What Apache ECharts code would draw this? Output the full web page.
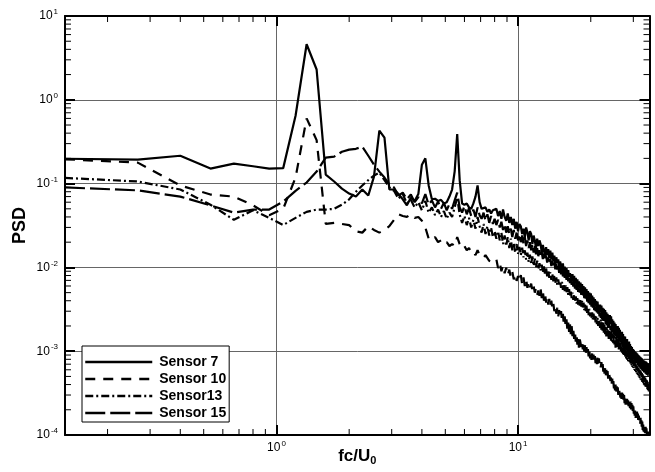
<!DOCTYPE html>
<html><head><meta charset="utf-8">
<script src="https://cdn.jsdelivr.net/npm/echarts@6/dist/echarts.min.js"></script>
<style>html,body{margin:0;padding:0;background:#fff}#c{width:655px;height:472px}</style>
</head><body><div id="c"></div>
<script>
const binWidth = 0.133333; // frequency bin (fc/U0)
const seriesNames = ['Sensor 7', 'Sensor 10', 'Sensor13', 'Sensor 15'];

const sensor7 = [
0.198,0.193,0.215,0.151,0.173,0.161,0.151,0.153,0.645,4.6,2.3,0.128,0.106,0.087,0.076,0.07,0.085,0.072,0.121,0.43,0.353,0.085,
0.085,0.075,0.065,0.055,0.068,0.062,0.075,0.168,0.2,0.095,0.065,0.066,0.062,0.064,0.058,0.06,0.07,0.085,0.14,0.39,0.11,0.058,0.056,0.058,0.052,0.05,0.058,0.07,0.095,0.06,0.05,0.048,0.052,0.046,0.049,0.044,0.048,0.046,
0.05,0.041,0.047,0.038,0.049,0.04,0.036,0.044,0.034,
0.04,0.032,0.038,0.029,0.035,0.027,0.033,
0.031,0.025,0.029,0.023,0.03,0.026,0.021,0.027,
0.025,0.019,0.024,0.021,0.017,0.022,0.018,0.021,
0.019,0.015,0.0185,0.016,0.0135,0.0175,0.014,0.0165,0.013,
0.0158,0.0125,0.015,0.0118,0.0138,0.0108,0.0132,0.0112,0.0125,0.0098,0.0118,
0.0105,0.0092,0.0112,0.0088,0.0102,0.0082,0.0098,0.0079,0.0093,0.0076,0.0085,
0.0089,0.0071,0.0083,0.0066,0.0079,0.0064,0.0075,0.006,0.0072,0.0058,0.0068,0.0057,
0.0066,0.0053,0.0063,0.0051,0.006,0.0048,0.0058,0.0046,0.0055,0.0045,0.0052,0.0042,0.005,
0.0041,0.0049,0.0039,0.0046,0.0037,0.0044,0.0035,0.0042,0.0034,0.004,0.0032,0.0039,0.0031,0.0036,0.003,
0.0036,0.0029,0.0035,0.0027,0.0033,0.0026,0.0032,0.0025,0.0031,0.0024,0.0029,0.0023,0.0028,0.0022,0.0027,0.0021,
0.0027,0.0021,0.0026,0.002,0.0024,0.0019,0.0023,0.0018,0.0022,0.0017,0.0021,0.0017,0.002,0.0016,0.002,0.0015,0.0019,0.0015,
0.0018,0.0014,0.0017,0.0013,0.0017,0.0013,0.0016,0.0012,0.0015,0.0012,0.0015,0.0011,0.0014,0.0011,0.0014,0.001,0.0013,0.001,0.0013,
0.0011,0.00122,0.00095,0.00115,0.0009,0.00112,0.00088,0.00106,0.00085,0.00104,0.00082,0.001,0.0008,0.00098,0.00078,0.00096,0.00076,0.00093,0.00074,0.0009,0.00072,0.00088,
0.0007,0.00086,0.00068,0.00084,0.00066,0.00082,0.00064,0.0008,0.00063,0.00078,0.00062,0.00077,0.0006,0.00076,0.00059,0.00075,0.00058,0.00073,0.00057,0.00072,0.00056,0.00071,0.00055,0.0007
];

const sensor10 = [
0.195,0.178,0.095,0.074,0.07,0.055,0.042,0.05,0.118,0.6,0.33,0.033,
0.034,0.033,0.032,0.027,0.026,0.031,0.028,0.026,0.028,0.031,0.037,0.043,0.041,0.04,0.043,0.039,0.04,0.036,0.03,0.022,0.021,0.023,0.02,0.021,0.019,0.02,0.018,0.019,0.018,0.023,0.019,0.017,0.018,0.016,0.017,0.015,0.0155,0.014,0.016,0.014,0.0145,0.013,0.014,0.0135,0.012,0.0125,0.0115,0.011,
0.0125,0.0098,0.0115,0.009,0.0106,0.0085,0.0099,0.008,0.0094,0.0076,0.0089,0.0072,0.0084,0.0069,0.0079,0.0068,
0.0081,0.0063,0.0076,0.006,0.0072,0.0057,0.0068,0.0058,0.0064,0.0052,0.006,0.005,0.0057,0.0047,0.0053,0.0046,
0.0056,0.0043,0.0052,0.004,0.0049,0.0038,0.0045,0.0036,0.0042,0.0034,0.004,0.0032,0.0037,0.003,0.0035,0.0028,0.0033,0.0026,0.0031,0.0025,
0.003,0.0023,0.0028,0.0021,0.0026,0.002,0.0024,0.0018,0.0022,0.0017,0.0021,0.0016,0.002,0.0015,0.0018,0.0014,0.0017,0.0013,0.0016,0.0012,0.0015,0.0011,0.0014,
0.00142,0.00112,0.00134,0.00105,0.00126,0.00099,0.00118,0.00094,0.00112,0.00089,0.00106,0.00085,0.00101,0.00082,0.00098,0.00079,0.00094,0.00077,0.00091,0.00075,0.00088,0.00072,0.00086,0.0007,0.00084,0.00069,0.00082,0.00072,
0.00077,0.00064,0.00074,0.0006,0.0007,0.00057,0.00066,0.00054,0.00063,0.00051,0.0006,0.00049,0.00058,0.00047,0.00056,0.00052,0.00053,0.00044,0.0005,0.00041,0.00047,0.00038,0.00044,0.00036,0.00042,0.00034,0.0004,0.00032,0.00038,0.00031,0.00037,0.0003,0.00036,0.00033,
0.00034,0.00028,0.00033,0.00027,0.00032,0.00026,0.00031,0.00025,0.0003,0.00024,0.00029,0.00023,0.00028,0.00023,0.00027,0.00022,0.00026,0.00022,0.00025,
0.00026,0.00021,0.00025,0.0002,0.00024,0.00019,0.00023,0.00018,0.00022,0.00018,0.00021,0.00017,0.0002,0.00016,0.00019,0.00015,0.00019,0.00015,0.00018,0.00014,0.00017,0.00015,
0.00016,0.00013,0.00016,0.000125,0.00015,0.00012,0.000145,0.000115,0.00014,0.00011,0.000135,0.000108,0.00013,0.000105,0.000125,0.000102,0.00012,0.0001,0.000115,0.0001,0.00011,0.0001,0.000108,0.0001
];

const sensor13 = [
0.117,0.106,0.085,0.056,0.037,0.048,0.039,0.032,0.039,0.046,0.049,0.049,0.05,0.056,0.065,0.08,0.095,0.11,0.125,0.135,0.11,0.09,
0.082,0.066,0.075,0.058,0.064,0.052,0.06,0.048,0.062,0.045,0.052,0.042,0.049,0.04,0.047,0.038,0.045,0.04,0.052,0.068,0.043,0.034,0.041,0.032,0.039,0.03,0.037,0.029,0.04,0.031,0.026,0.033,0.025,0.031,0.024,0.03,0.023,0.027,
0.022,0.027,0.021,0.026,0.019,0.024,0.018,0.023,0.017,0.022,0.016,0.0195,0.015,0.019,0.0145,0.0175,
0.014,0.0172,0.0132,0.016,0.0124,0.015,0.0116,0.0142,0.011,0.0135,0.0104,0.0127,0.0099,0.012,0.0095,0.0112,
0.0092,0.0108,0.0087,0.0103,0.0082,0.0098,0.0078,0.0093,0.0075,0.0088,0.0071,0.0084,0.0068,0.008,0.0065,0.0076,0.0062,0.0072,0.006,0.0069,
0.0057,0.0067,0.0054,0.0064,0.0052,0.0061,0.0049,0.0058,0.0047,0.0055,0.0045,0.0052,0.0043,0.005,0.0041,0.0047,0.0039,0.0045,0.0037,0.0043,0.0036,0.0041,0.0035,
0.0042,0.0034,0.004,0.0032,0.0038,0.0031,0.0036,0.0029,0.0035,0.0028,0.0033,0.0027,0.0032,0.0026,0.003,0.0025,0.0029,0.0024,0.0028,0.0023,0.0027,0.0022,0.0026,0.0021,0.0025,0.002,0.0024,0.0021,
0.0019,0.0024,0.0018,0.0023,0.0017,0.0022,0.0016,0.0021,0.0016,0.002,0.0015,0.0019,0.0015,0.0018,0.0014,0.0018,0.0014,0.0017,0.0013,0.0017,0.0013,0.0016,0.0012,0.0016,0.0012,0.0015,0.0011,0.0015,0.0011,0.0014,0.0011,0.0014,0.00105,0.0013,
0.00105,0.0013,0.001,0.00125,0.00096,0.0012,0.00092,0.00115,0.00088,0.0011,0.00085,0.00105,0.00082,0.001,0.00079,0.00097,0.00076,0.00093,0.00082,
0.00074,0.0009,0.00071,0.00087,0.00068,0.00083,0.00065,0.0008,0.00063,0.00077,0.0006,0.00074,0.00058,0.00071,0.00056,0.00068,0.00054,0.00066,0.00052,0.00063,0.0005,0.00061,
0.00048,0.00059,0.00046,0.00057,0.00045,0.00055,0.00043,0.00053,0.00042,0.00051,0.0004,0.00049,0.00039,0.00048,0.00037,0.00046,0.00036,0.00045,0.00035,0.00043,0.00034,0.00042,0.00033,0.0004
];

const sensor15 = [
0.09,0.083,0.07,0.055,0.045,0.049,0.049,0.061,0.082,0.103,0.139,0.204,0.21,0.24,0.254,0.26,0.276,0.215,0.168,0.139,0.118,0.097,
0.09,0.072,0.078,0.065,0.074,0.06,0.069,0.058,0.075,0.056,0.063,0.052,0.061,0.05,0.059,0.048,0.057,0.05,0.063,0.078,0.052,0.045,0.054,0.043,0.051,0.041,0.049,0.04,0.052,0.042,0.038,0.045,0.036,0.043,0.034,0.041,0.033,0.038,
0.032,0.037,0.03,0.035,0.028,0.033,0.026,0.031,0.025,0.029,0.023,0.028,0.022,0.026,0.021,0.025,
0.02,0.024,0.019,0.023,0.018,0.021,0.017,0.02,0.016,0.019,0.015,0.018,0.0143,0.017,0.0136,0.016,
0.0132,0.0152,0.0126,0.0146,0.012,0.0139,0.0114,0.0132,0.0109,0.0126,0.0104,0.012,0.0099,0.0114,0.0095,0.0109,0.009,0.0104,0.0086,0.0098,
0.0082,0.0094,0.0078,0.009,0.0075,0.0086,0.0071,0.0082,0.0068,0.0078,0.0065,0.0074,0.0062,0.0071,0.0059,0.0068,0.0056,0.0065,0.0054,0.0062,0.0051,0.0059,0.005,
0.0056,0.0047,0.0054,0.0045,0.0051,0.0043,0.0049,0.0041,0.0047,0.0039,0.0045,0.0037,0.0043,0.0036,0.0041,0.0034,0.0039,0.0033,0.0037,0.0031,0.0035,0.003,0.0034,0.0029,0.0032,0.0027,0.0031,0.0026,
0.0029,0.0025,0.0028,0.0024,0.0027,0.0023,0.0026,0.0022,0.0025,0.0021,0.0024,0.002,0.0023,0.0019,0.0022,0.0019,0.0021,0.0018,0.002,0.0017,0.002,0.0017,0.0019,0.0016,0.0018,0.0015,0.0018,0.0015,0.0017,0.0014,0.0016,0.0014,0.0016,0.0013,
0.0015,0.00128,0.00146,0.00122,0.0014,0.00117,0.00134,0.00112,0.00129,0.00108,0.00124,0.00104,0.00119,0.001,0.00114,0.00097,0.0011,0.00093,0.00106,
0.0009,0.00103,0.00087,0.001,0.00084,0.00097,0.00081,0.00094,0.00079,0.00091,0.00076,0.00088,0.00074,0.00085,0.00072,0.00083,0.0007,0.0008,0.00068,0.00078,0.00066,0.00076,
0.00064,0.00074,0.00062,0.00072,0.00061,0.0007,0.00059,0.00068,0.00058,0.00066,0.00056,0.00064,0.00055,0.00063,0.00054,0.00061,0.00053,0.0006,0.00052,0.00059,0.00051,0.00058,0.0005,0.00057
];

const xMinorTicks = [0.2,0.3,0.4,0.5,0.6,0.7,0.8,0.9,2,3,4,5,6,7,8,9,20,30];
const yMinorTicks = [
2e-4,3e-4,4e-4,5e-4,6e-4,7e-4,8e-4,9e-4,
2e-3,3e-3,4e-3,5e-3,6e-3,7e-3,8e-3,9e-3,
0.02,0.03,0.04,0.05,0.06,0.07,0.08,0.09,
0.2,0.3,0.4,0.5,0.6,0.7,0.8,0.9,
2,3,4,5,6,7,8,9
];

const allSeries = [sensor7, sensor10, sensor13, sensor15];
allSeries.forEach((a, i) => { if (a.length !== 262) throw new Error('length mismatch ' + i + ': ' + a.length); });
const freq = sensor7.map((_, i) => (i + 1) * binWidth);

const FONT = 'Liberation Sans, Arial, sans-serif';
const dashTypes = ['solid', [10, 8], [8, 3, 2, 3], [20, 5]];

const supRich = {
  e: { fontSize: 8, fontFamily: FONT, color: '#000', verticalAlign: 'top', lineHeight: 8, padding: [0, 0, 0, 1] }
};
const powLabel = v => '10{e|' + Math.round(Math.log10(v)) + '}';

const baseAxisLabel = {
  formatter: powLabel, rich: supRich, fontFamily: FONT, fontSize: 12, color: '#000', lineHeight: 16,
  showMinLabel: false, showMaxLabel: false
};

const chart = echarts.init(document.getElementById('c'));
const lineSeries = seriesNames.map((name, i) => ({
  name, type: 'line', symbol: 'none', showSymbol: false, animation: false,
  data: freq.map((f, j) => [f, allSeries[i][j]]),
  lineStyle: { color: '#000', width: 2.2, type: dashTypes[i] },
  itemStyle: { color: '#000' },
  z: 10 - i
}));

const minorX = {
  type: 'custom', xAxisIndex: 0, yAxisIndex: 0, silent: true, animation: false, z: 20,
  data: xMinorTicks.map(v => [v, 1]),
  renderItem(params, api) {
    const x = api.coord([api.value(0), 1])[0];
    const cs = params.coordSys;
    const st = { stroke: '#000', lineWidth: 1 };
    return { type: 'group', children: [
      { type: 'line', shape: { x1: x, y1: cs.y + cs.height, x2: x, y2: cs.y + cs.height - 6 }, style: st },
      { type: 'line', shape: { x1: x, y1: cs.y, x2: x, y2: cs.y + 6 }, style: st }
    ]};
  }
};
const minorY = {
  type: 'custom', xAxisIndex: 0, yAxisIndex: 0, silent: true, animation: false, z: 20,
  data: yMinorTicks.map(v => [1, v]),
  renderItem(params, api) {
    const y = api.coord([1, api.value(1)])[1];
    const cs = params.coordSys;
    const st = { stroke: '#000', lineWidth: 1 };
    return { type: 'group', children: [
      { type: 'line', shape: { x1: cs.x, y1: y, x2: cs.x + 6, y2: y }, style: st },
      { type: 'line', shape: { x1: cs.x + cs.width, y1: y, x2: cs.x + cs.width - 6, y2: y }, style: st }
    ]};
  }
};

const axisLineStyle = { show: true, onZero: false, lineStyle: { color: '#000', width: 2 } };
const majorTick = { show: true, inside: true, length: 10, lineStyle: { color: '#000', width: 2 } };
const gridLine = { show: true, lineStyle: { color: '#666', width: 1 } };

chart.setOption({
  animation: false,
  backgroundColor: '#fff',
  grid: { left: 65, right: 5.5, top: 16, bottom: 37, containLabel: false, outerBoundsMode: 'none' },
  legend: {
    data: seriesNames, orient: 'vertical', left: 82, top: 346,
    itemWidth: 67, itemHeight: 14, itemGap: 3, padding: [9, 3, 2, 2],
    borderColor: '#000', borderWidth: 1, backgroundColor: '#fff',
    lineStyle: { width: 2.5 },
    itemStyle: { opacity: 0 },
    textStyle: { fontFamily: FONT, fontWeight: 'bold', fontSize: 14, color: '#000', padding: [0, 0, 0, 2] },
    selectedMode: false
  },
  xAxis: [
    {
      type: 'log', logBase: 10, min: 0.13333, max: 35, position: 'bottom',
      axisLine: axisLineStyle, axisTick: majorTick, splitLine: gridLine,
      axisLabel: Object.assign({ margin: 5 }, baseAxisLabel),
      name: 'fc/U{s|0}', nameLocation: 'middle', nameGap: 11, nameMoveOverlap: false,
      nameTextStyle: {
        fontFamily: FONT, fontWeight: 'bold', fontSize: 17, color: '#000', lineHeight: 20, verticalAlign: 'top',
        rich: { s: { fontFamily: FONT, fontWeight: 'bold', fontSize: 11, color: '#000', verticalAlign: 'bottom', lineHeight: 11 } }
      }
    },
    {
      type: 'log', logBase: 10, min: 0.13333, max: 35, position: 'top',
      axisLine: axisLineStyle, axisTick: majorTick, splitLine: { show: false }, axisLabel: { show: false }
    }
  ],
  yAxis: [
    {
      type: 'log', logBase: 10, min: 1e-4, max: 10, position: 'left',
      axisLine: axisLineStyle, axisTick: majorTick, splitLine: gridLine,
      axisLabel: Object.assign({ margin: 7 }, baseAxisLabel, { showMinLabel: true, showMaxLabel: true }),
      name: 'PSD', nameLocation: 'middle', nameGap: 36, nameRotate: 90, nameMoveOverlap: false,
      nameTextStyle: { fontFamily: FONT, fontWeight: 'bold', fontSize: 18, color: '#000' }
    },
    {
      type: 'log', logBase: 10, min: 1e-4, max: 10, position: 'right',
      axisLine: axisLineStyle, axisTick: majorTick, splitLine: { show: false }, axisLabel: { show: false }
    }
  ],
  series: lineSeries.concat([minorX, minorY])
});
</script>
</body></html>
